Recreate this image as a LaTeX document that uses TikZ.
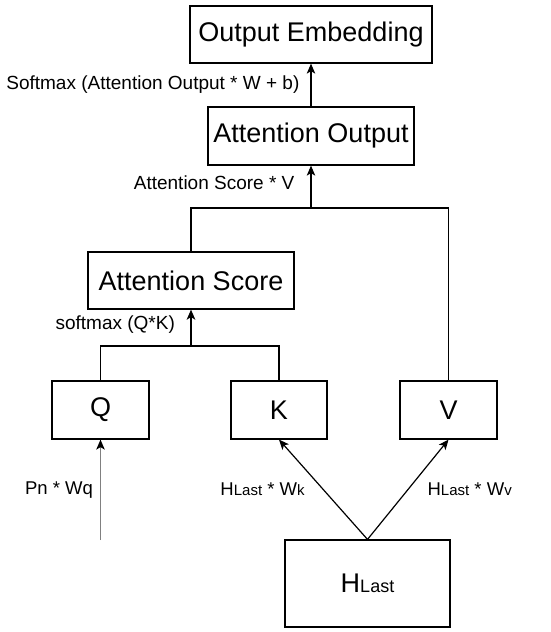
\documentclass[tikz,border=0pt]{standalone}
\usepackage{fontspec}
\setmainfont{Liberation Sans}
\usetikzlibrary{positioning, arrows.meta}

\begin{document}
\begin{tikzpicture}[x=1pt, y=-1pt,
        box/.style={draw, line width=1.2pt, inner sep=0pt, font=\fontsize{27}{32}\selectfont},
        lbl/.style={inner sep=0pt, font=\fontsize{19}{23}\selectfont},
        sublbl/.style={inner sep=0pt, text=black, font=\fontsize{18.5}{22}\selectfont},
        arr/.style={line width=1.2pt, -{Stealth[length=10pt, width=8.5pt, inset=2.5pt, black]}}]

        % page size of the reference
        \useasboundingbox (0,0) rectangle (550,632);

        % Boxes
        \node[box, minimum width=242pt, minimum height=57pt] (oemb) at (311,34.5) {Output Embedding};
        \node[box, minimum width=206pt, minimum height=58pt] (aout) at (311,136) {Attention Output};
        \node[box, minimum width=206pt, minimum height=57pt] (ascore) at (191,280.5) {Attention Score};
        \node[box, minimum width=97pt, minimum height=58pt] (q) at (100.5,410) {Q};
        \node[box, minimum width=96pt, minimum height=58pt] (k) at (279,410) {K};
        \node[box, minimum width=97pt, minimum height=58pt] (v) at (448.5,410) {V};
        \node[box, minimum width=165pt, minimum height=87pt] (hlast) at (367.5,583.5) {H{\fontsize{18}{22}\selectfont Last}};

        % Junction points and free end
        \coordinate (vjoin) at (311,208);
        \coordinate (qkjoin) at (191,346);
        \coordinate (qin) at (100.5,540);

        % Attention Output -> Output Embedding
        \draw[arr] (aout.north) -- node[lbl, left=11pt] {Softmax (Attention Output * W + b)} (oemb.south);

        % Attention Score and V -> Attention Output
        \draw[line width=1.2pt] (ascore.north) |- (vjoin) -| (v.north);
        \draw[arr] (vjoin) -- node[lbl, left=16pt, yshift=4pt] {Attention Score * V} (aout.south);

        % Q and K -> Attention Score
        \draw[line width=1.2pt] (q.north) |- (qkjoin) -| (k.north);
        \draw[arr, line width=2.2pt] (qkjoin) -- node[lbl, left=15pt, yshift=3pt] {softmax (Q*K)} (ascore.south);

        % Inputs of Q, K and V
        \draw[arr, draw=gray] (qin) -- node[sublbl, left=7pt] {Pn * Wq} (q.south);
        \draw[arr] (hlast.north) -- node[sublbl, left=18pt] {H{\fontsize{15}{18}\selectfont Last} * W{\fontsize{15}{18}\selectfont k}} (k.south);
        \draw[arr] (hlast.north) -- node[sublbl, right=19pt] {H{\fontsize{15}{18}\selectfont Last} * W{\fontsize{15}{18}\selectfont v}} (v.south);

\end{tikzpicture}
\end{document}
